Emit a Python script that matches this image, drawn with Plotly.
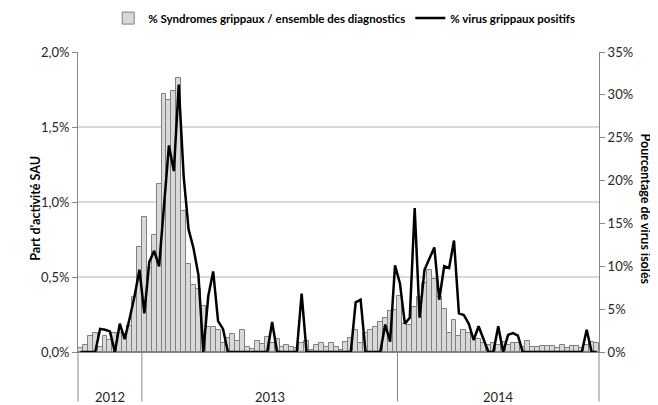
import plotly.graph_objects as go

# ---------------- data ----------------
years = ["2012", "2013", "2014"]
weeks_per_year = [13, 52, 41]

# % Syndromes grippaux / ensemble des diagnostics (weekly, in %)
syndromes_pct = [
    # 2012
    0.027, 0.05, 0.11, 0.127, 0.035, 0.11, 0.078, 0.127, 0.13, 0.12, 0.175, 0.37, 0.70,
    # 2013
    0.90, 0.56, 0.78, 1.12, 1.72, 1.68, 1.74, 1.83, 0.94, 0.59, 0.45, 0.42, 0.31,
    0.17, 0.17, 0.15, 0.058, 0.095, 0.12, 0.073, 0.15, 0.036, 0.022, 0.073, 0.051,
    0.098, 0.06, 0.09, 0.035, 0.045, 0.031, 0.03, 0.062, 0.071, 0.015, 0.046, 0.062,
    0.036, 0.062, 0.036, 0.015, 0.068, 0.091, 0.147, 0.058, 0.124, 0.147, 0.165, 0.20,
    0.23, 0.273, 0.28,
    # 2014
    0.373, 0.19, 0.18, 0.30, 0.364, 0.46, 0.547, 0.484, 0.364, 0.284, 0.13, 0.215,
    0.108, 0.15, 0.124, 0.10, 0.09, 0.062, 0.047, 0.058, 0.05, 0.069, 0.045, 0.058,
    0.058, 0.036, 0.076, 0.036, 0.031, 0.04, 0.04, 0.04, 0.024, 0.044, 0.024, 0.04,
    0.04, 0.024, 0.047, 0.069, 0.058,
]

# % virus grippaux positifs (weekly, in %)
virus_pct = [
    # 2012
    0, 0, 0, 0, 2.7, 2.6, 2.4, 0, 3.3, 1.5, 3.9, 6.5, 9.6,
    # 2013
    4.5, 10.5, 11.8, 10.0, 17.0, 24.1, 21.1, 31.2, 20.5, 14.3, 12.1, 9.0, 0,
    6.5, 9.4, 3.6, 2.7, 0, 0, 0, 0, 0, 0, 0, 0,
    0, 3.5, 0, 0, 0, 0, 0, 6.8, 0, 0, 0, 0,
    0, 0, 0, 0, 0, 0, 5.8, 6.1, 0, 0, 0, 0,
    3.2, 1.2, 10.1,
    # 2014
    8.0, 3.3, 4.0, 16.8, 4.0, 9.6, 11.0, 12.2, 6.1, 10.0, 9.8, 13.0,
    4.5, 4.3, 3.3, 1.4, 3.0, 1.5, 0, 0, 3.0, 0, 2.0, 2.2,
    1.9, 0, 0, 0, 0, 0, 0, 0, 0, 0, 0, 0,
    0, 0, 2.6, 0, 0,
]

left_ticks = [0, 0.5, 1.0, 1.5, 2.0]
left_ticktext = ["0,0%", "0,5%", "1,0%", "1,5%", "2,0%"]
right_ticks = [0, 5, 10, 15, 20, 25, 30, 35]
right_ticktext = ["0%", "5%", "10%", "15%", "20%", "25%", "30%", "35%"]

# ---------------- figure ----------------
n = len(syndromes_pct)
xs = list(range(n))
FONT = "Lato, 'Open Sans', sans-serif"
AXC = "#868686"
TXT = "#262626"

fig = go.Figure()
fig.add_trace(go.Bar(
    x=xs, y=syndromes_pct,
    name="% Syndromes grippaux / ensemble des diagnostics",
    marker=dict(color="#d9d9d9", line=dict(color="#7f7f7f", width=1)),
))
fig.add_trace(go.Scatter(
    x=xs, y=virus_pct, yaxis="y2", mode="lines",
    name="% virus grippaux positifs",
    line=dict(color="black", width=2.5),
))

# page body has an 8px margin: figure is sized/offset to compensate
fig.update_layout(
    width=650, height=397,
    margin=dict(l=70, r=59, t=44, b=53, autoexpand=False),
    paper_bgcolor="white", plot_bgcolor="white",
    font=dict(family=FONT, size=12, color=TXT),
    bargap=0,
    showlegend=True,
    legend=dict(
        orientation="h", x=0.058, xanchor="left", y=1.113, yanchor="middle",
        font=dict(family=FONT, size=11.5, color="black", weight="bold"),
        itemwidth=30, tracegroupgap=0,
    ),
    xaxis=dict(
        range=[-0.5, n - 0.5], showticklabels=False, ticks="",
        showgrid=False, zeroline=False, showline=True, linecolor=AXC, linewidth=1,
    ),
    yaxis=dict(
        range=[0, 2.0], tickvals=left_ticks, ticktext=left_ticktext,
        showgrid=True, gridcolor="#d9d9d9", gridwidth=1.5, zeroline=False,
        showline=True, linecolor=AXC, linewidth=1,
        ticks="outside", ticklen=5, tickcolor=AXC,
        tickfont=dict(family=FONT, size=13, color=TXT),
    ),
    yaxis2=dict(
        range=[0, 35], tickvals=right_ticks, ticktext=right_ticktext,
        overlaying="y", side="right", showgrid=False, zeroline=False,
        showline=True, linecolor=AXC, linewidth=1,
        ticks="outside", ticklen=5, tickcolor=AXC,
        tickfont=dict(family=FONT, size=13, color=TXT),
    ),
)

# multi-level category axis: year separators and labels
shapes = []
annotations = []
bottom = -0.165
cum = 0
for yr, w in zip(years, weeks_per_year):
    start = cum
    cum += w
    xstart = start / n
    xend = cum / n
    shapes.append(dict(type="line", xref="paper", yref="paper",
                       x0=xstart, x1=xstart, y0=bottom, y1=0,
                       line=dict(color=AXC, width=1)))
    annotations.append(dict(text=yr, xref="paper", yref="paper",
                            x=(xstart + xend) / 2, y=-0.15, showarrow=False,
                            xanchor="center", yanchor="middle",
                            font=dict(family=FONT, size=13, color=TXT)))
shapes.append(dict(type="line", xref="paper", yref="paper",
                   x0=1, x1=1, y0=bottom, y1=0, line=dict(color=AXC, width=1)))

annotations.append(dict(text="Part d'activité SAU", xref="paper", yref="paper",
                        x=-0.083, y=0.48, textangle=-90, showarrow=False,
                        xanchor="center", yanchor="middle",
                        font=dict(family=FONT, size=12.5, color="black", weight="bold")))
annotations.append(dict(text="Pourcentage de virus isolés", xref="paper", yref="paper",
                        x=1.089, y=0.477, textangle=90, showarrow=False,
                        xanchor="center", yanchor="middle",
                        font=dict(family=FONT, size=12.5, color="black", weight="bold")))

fig.update_layout(shapes=shapes, annotations=annotations)
fig.write_html("out.html")
